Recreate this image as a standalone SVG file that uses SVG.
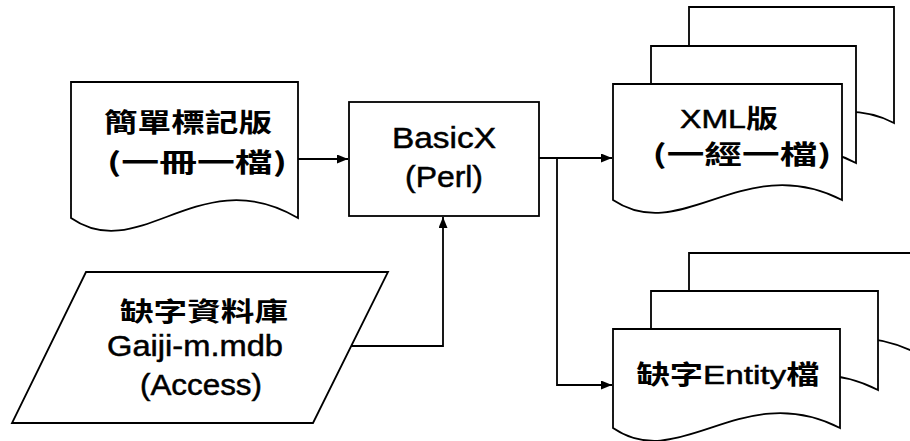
<svg xmlns="http://www.w3.org/2000/svg" width="910" height="441" viewBox="0 0 910 441">
<defs>
<style>
.sh{fill:#fff;stroke:#000;stroke-width:1.8;stroke-linejoin:miter}
.cn{fill:none;stroke:#000;stroke-width:1.8}
.t{font-family:"Liberation Sans","Noto Sans CJK TC",sans-serif;font-size:29px;fill:#000;stroke:#000;stroke-width:0.5;text-anchor:middle}
.c{font-family:"Noto Sans CJK TC","Liberation Sans",sans-serif;font-size:26px;font-weight:bold;fill:#000;text-anchor:middle}
.lt{font-family:"Liberation Sans",sans-serif;font-weight:normal;stroke:#000;stroke-width:0.5}
</style>
<marker id="ah" markerUnits="userSpaceOnUse" markerWidth="12" markerHeight="10" refX="11" refY="4.5" orient="auto">
<path d="M0,0 L11,4.5 L0,9 Z" fill="#000"/>
</marker>
</defs>
<rect width="910" height="441" fill="#fff"/>

<g id="connectors">
<path class="cn" d="M298,159 L348,159" marker-end="url(#ah)"/>
<path class="cn" d="M539,158 L612,158" marker-end="url(#ah)"/>
<path class="cn" d="M557,158 L557,385 L612,385" marker-end="url(#ah)"/>
<path class="cn" d="M351,346 L443,346 L443,217" marker-end="url(#ah)"/>
</g>

<g id="simple-markup">
<path class="sh" d="M71,82 L298,82 L298,218 C200,160 140,266 71,218 Z"/>
<text class="c" x="188" y="132" textLength="168" lengthAdjust="spacingAndGlyphs">簡單標記版</text>
<text class="c" x="197" y="172" textLength="180" lengthAdjust="spacingAndGlyphs">(一冊一檔)</text>
</g>

<g id="basicx">
<rect class="sh" x="349" y="102" width="190" height="114"/>
<text class="t" x="444" y="148" textLength="104" lengthAdjust="spacingAndGlyphs">BasicX</text>
<text class="t" x="444" y="187" textLength="78" lengthAdjust="spacingAndGlyphs">(Perl)</text>
</g>

<g id="xml-files">
<path class="sh" d="M689,7 L894,7 L894,123 C820,85 760,158 689,123 Z"/>
<path class="sh" d="M651,46 L856,46 L856,163 C780,122 720,198 651,163 Z"/>
<path class="sh" d="M613,84 L842,84 L842,200 C744,150 682,246 613,200 Z"/>
<text class="c" x="729" y="128" textLength="98" lengthAdjust="spacingAndGlyphs"><tspan class="lt">XML</tspan>版</text>
<text class="c" x="742" y="164" textLength="179" lengthAdjust="spacingAndGlyphs">(一經一檔)</text>
</g>

<g id="entity-files">
<path class="sh" d="M689,253 L916,253 L916,353 C818,303 756,399 689,353 Z"/>
<path class="sh" d="M651,291 L878,291 L878,390 C780,340 718,436 651,390 Z"/>
<path class="sh" d="M613,329 L840,329 L840,428 C742,378 680,474 613,428 Z"/>
<text class="c" x="728" y="384" textLength="183" lengthAdjust="spacingAndGlyphs">缺字<tspan class="lt">Entity</tspan>檔</text>
</g>

<g id="gaiji-db">
<path class="sh" d="M86,272 L388,272 L313,423 L12,423 Z"/>
<text class="c" x="204" y="321" textLength="168" lengthAdjust="spacingAndGlyphs">缺字資料庫</text>
<text class="t" x="195" y="356" textLength="176" lengthAdjust="spacingAndGlyphs">Gaiji-m.mdb</text>
<text class="t" x="201" y="395" textLength="122" lengthAdjust="spacingAndGlyphs">(Access)</text>
</g>
</svg>
